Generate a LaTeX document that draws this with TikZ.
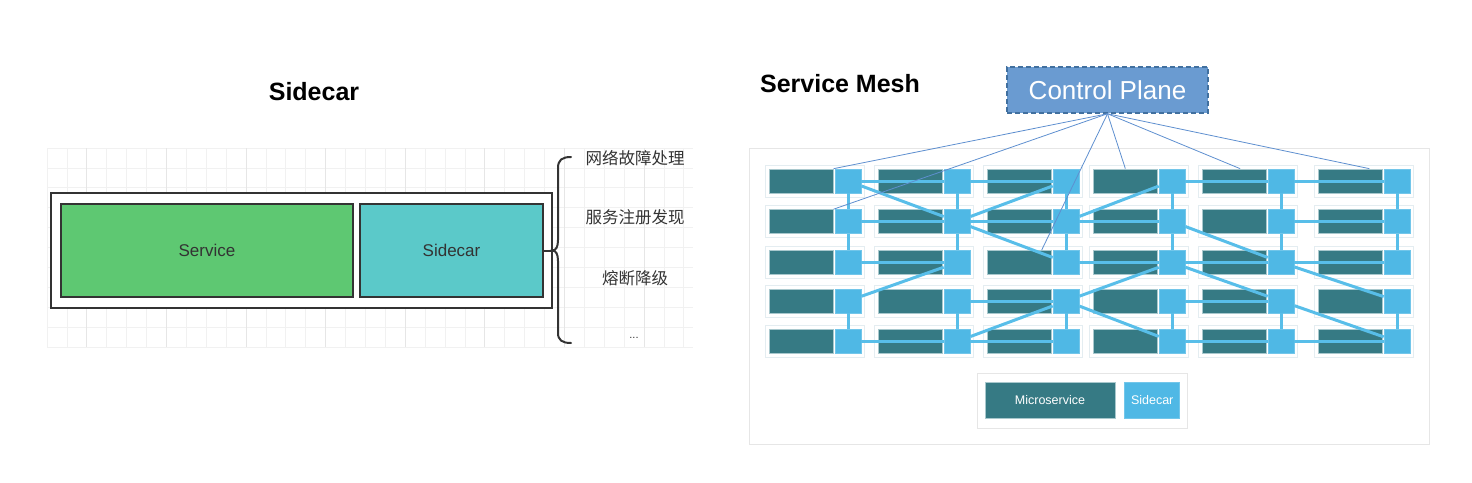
\documentclass[tikz,border=0pt]{standalone}
\usepackage{fontspec}
\setmainfont{Liberation Sans}
\newfontfamily\cjk{Noto Sans CJK SC}
\usetikzlibrary{positioning}

\definecolor{gridgray}{HTML}{F1F1F1}
\definecolor{gridmajor}{HTML}{E6E6E6}
\definecolor{boxline}{HTML}{333333}
\definecolor{textgray}{HTML}{333333}
\definecolor{svcgreen}{HTML}{5EC872}
\definecolor{carcyan}{HTML}{5BC9C9}
\definecolor{mscolor}{HTML}{367A84}
\definecolor{msedge}{HTML}{A8C8CD}
\definecolor{sccolor}{HTML}{4FB8E5}
\definecolor{linkcol}{HTML}{58BEE9}
\definecolor{framecol}{HTML}{E4EDF1}
\definecolor{meshedge}{HTML}{E6E6E6}
\definecolor{cpfill}{HTML}{6A9BD1}
\definecolor{cpedge}{HTML}{41709F}
\definecolor{ctrlcol}{HTML}{5E8FCF}

\tikzstyle{title} = [font=\bfseries\fontsize{25}{30}\selectfont, 
text=black]
\tikzstyle{bigbox} = [rectangle, 
minimum height=93pt, 
draw=boxline, 
line width=2pt, 
text=textgray, 
font=\fontsize{17}{20}\selectfont]
\tikzstyle{note} = [font=\cjk\fontsize{16.5}{20}\selectfont, 
text=textgray]
\tikzstyle{cell} = [rectangle, 
minimum width=99pt, 
minimum height=32pt, 
draw=framecol, 
line width=1pt, 
fill=white]
\tikzstyle{micro} = [rectangle, 
minimum width=64pt, 
minimum height=24pt, 
inner sep=0pt, 
draw=msedge, 
line width=0.7pt, 
fill=mscolor]
\tikzstyle{car} = [rectangle, 
minimum width=26pt, 
minimum height=24pt, 
inner sep=0pt, 
draw=sccolor!80!white, 
line width=0.7pt, 
fill=sccolor]
\tikzstyle{link} = [line width=3pt, draw=linkcol]
\tikzstyle{ctrl} = [line width=0.8pt, draw=ctrlcol]
\tikzstyle{legendtext} = [text=white, font=\fontsize{12.5}{15}\selectfont]

\begin{document}
\begin{tikzpicture}[x=1pt, y=-1pt]
		\useasboundingbox (0,0) rectangle (1472,482);
		% left: sidecar
		\foreach \i in {0,...,32} {
			\draw [gridgray, line width=0.8pt] (47+19.9*\i,148) -- (47+19.9*\i,347);
		}
		\foreach \j in {0,...,10} {
			\draw [gridgray, line width=0.8pt] (47,148+19.9*\j) -- (693,148+19.9*\j);
		}
		\foreach \i in {2,6,...,30} {
			\draw [gridmajor, line width=0.8pt] (47+19.9*\i,148) -- (47+19.9*\i,347);
		}
		\node (head) [title] at (314,92) {Sidecar};
		\node (pod) [rectangle, draw=boxline, line width=2pt, fill=white, minimum width=501pt, minimum height=115pt] at (301.5,250.5) {};
		\node (svc) [bigbox, fill=svcgreen, minimum width=292pt] at (207,250.5) {Service};
		\node (car) [bigbox, fill=carcyan, minimum width=183pt, right=5pt of svc] {Sidecar};
		\coordinate (tip) at (552,250.5);
		\draw [boxline, line width=2pt] (car.east) -- (tip);
		\draw [boxline, line width=2pt, line cap=round] (571,157) .. controls (562,157) and (558,160) .. (558,168) -- (558,240) .. controls (558,247) and (556,250.5) .. (tip) .. controls (556,250.5) and (558,254) .. (558,261) -- (558,333) .. controls (558,340) and (562,343) .. (571,343);
		\node (f1) [note] at (635,158) {网络故障处理};
		\node (f2) [note] at (635,217) {服务注册发现};
		\node (f3) [note] at (635,278) {熔断降级};
		\node (f4) [text=textgray, font=\fontsize{11}{12}\selectfont] at (634,338) {...};

		% right: service mesh
		\node (meshhead) [title] at (840,84) {Service Mesh};
		\node (mesh) [rectangle, draw=meshedge, line width=1pt, minimum width=680pt, minimum height=296pt] at (1089,296) {};
		\node (cp) [rectangle, draw=cpedge, dash pattern=on 5pt off 3pt, line width=1.5pt, fill=cpfill, minimum width=201pt, minimum height=46pt, text=white, font=\fontsize{26}{30}\selectfont] at (1107.5,90) {Control Plane};
		\foreach \c/\x in {1/769,2/878,3/987,4/1093,5/1202,6/1318} {
			\foreach \r/\y in {1/181,2/221.5,3/262.5,4/301,5/341.5} {
				\node (fr-\c-\r) [cell, anchor=west] at (\x-4,\y) {};
				\node (ms-\c-\r) [micro, anchor=west] at (\x,\y) {};
				\node (sc-\c-\r) [car, right=1pt of ms-\c-\r] {};
			}
		}
		% sidecar to sidecar
		\foreach \a/\b in {1-1/2-1, 2-1/3-1, 4-1/5-1, 5-1/6-1,
			1-2/2-2, 2-2/3-2, 3-2/4-2, 5-2/6-2,
			1-3/2-3, 3-3/4-3, 4-3/5-3, 5-3/6-3,
			2-4/3-4, 4-4/5-4,
			1-5/2-5, 2-5/3-5, 4-5/5-5, 5-5/6-5,
			1-1/2-2, 2-2/3-1, 2-2/3-3, 3-2/4-1, 1-4/2-3, 2-5/3-4,
			3-4/4-3, 3-4/4-5, 4-2/5-3, 4-3/5-4, 5-3/6-4, 5-4/6-5} {
			\draw [link] (sc-\a) -- (sc-\b);
		}
		\foreach \c in {1,...,6} {
			\draw [link] (sc-\c-1) -- (sc-\c-2) -- (sc-\c-3);
			\draw [link] (sc-\c-4) -- (sc-\c-5);
		}
		% control plane
		\draw [ctrl] (cp.south) -- (ms-1-1.north east);
		\draw [ctrl] (cp.south) -- (ms-1-2.north east);
		\draw [ctrl] (cp.south) -- (ms-3-3.29);
		\draw [ctrl] (cp.south) -- (ms-4-1.north);
		\draw [ctrl] (cp.south) -- (ms-5-1.65);
		\draw [ctrl] (cp.south) -- (ms-6-1.33);
		% legend
		\node (lg) [cell, minimum width=210pt, minimum height=55pt, draw=meshedge] at (1082,400.5) {};
		\node (lgms) [micro, legendtext, minimum width=130pt, minimum height=36pt] at (1050,400) {Microservice};
		\node (lgsc) [car, legendtext, minimum width=55pt, minimum height=36pt, right=9pt of lgms] {Sidecar};
	\end{tikzpicture}
\end{document}
